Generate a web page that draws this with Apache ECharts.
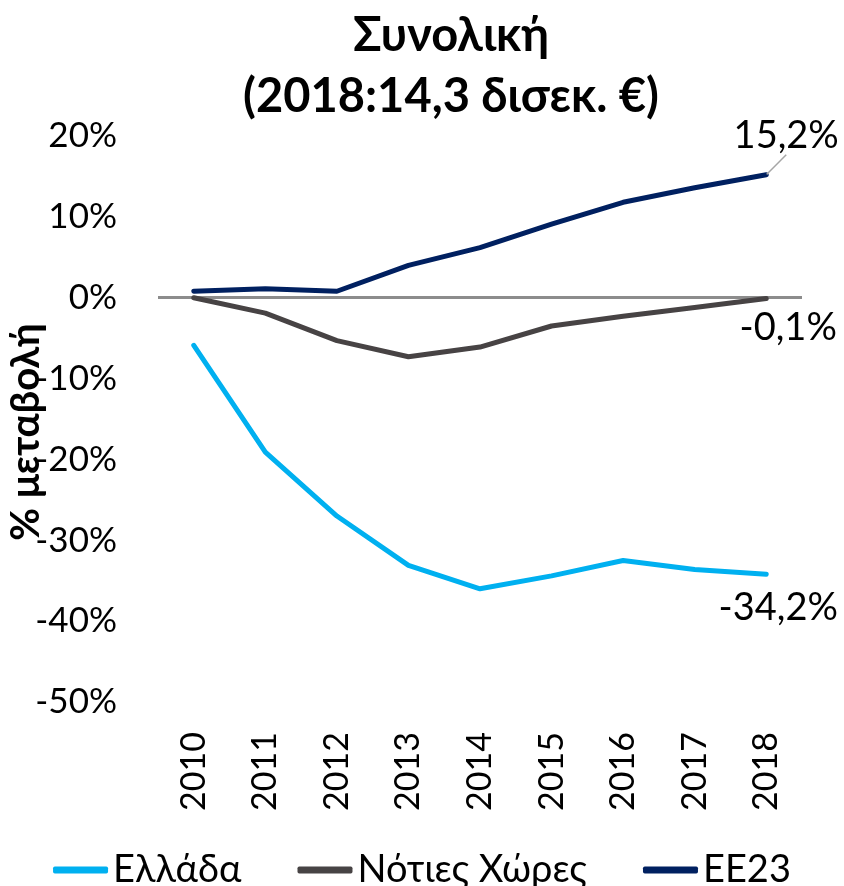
<!DOCTYPE html>
<html>
<head>
<meta charset="utf-8">
<script src="https://cdn.jsdelivr.net/npm/echarts@6/dist/echarts.min.js"></script>
<style>
html,body{margin:0;padding:0;background:#fff;}
#chart{width:844px;height:886px;}
</style>
</head>
<body>
<div id="chart"></div>
<script>
// κατηγορίες και τιμές (% μεταβολή)
var years = ['2010','2011','2012','2013','2014','2015','2016','2017','2018'];
var ellada = [-5.9, -19.1, -27.0, -33.1, -36.0, -34.4, -32.5, -33.6, -34.2];
var notiesXores = [0.0, -1.9, -5.3, -7.3, -6.1, -3.5, -2.3, -1.2, -0.1];
var ee23 = [0.8, 1.1, 0.8, 4.0, 6.2, 9.1, 11.8, 13.6, 15.2];
var seriesNames = ['Ελλάδα', 'Νότιες Χώρες', 'ΕΕ23'];
var colors = ['#00b0f0', '#474344', '#002060'];

var FONT = "Lato, 'Noto Sans', sans-serif";
var LAST = years.length - 1;

function fmt(v){
	return v.toFixed(1).replace('.', ',') + '%';
}
// μόνο η τελευταία τιμή έχει ετικέτα
function lastLabel(p){
	return p.dataIndex === LAST ? fmt(p.value) : '';
}

function makeSeries(i, data, dx, dy){
	return {
		name: seriesNames[i],
		type: 'line',
		data: data,
		symbol: 'circle',
		symbolSize: 1,
		showSymbol: true,
		lineStyle: {width: 5, color: colors[i], cap: 'round', join: 'round'},
		itemStyle: {color: colors[i]},
		label: {
			show: true,
			position: 'inside',
			formatter: lastLabel,
			color: '#000',
			fontSize: 38,
			fontFamily: FONT
		},
		labelLayout: function(p){
			if (p.dataIndex === LAST) return {dx: dx, dy: dy};
		},
		z: 3 + i
	};
}

var chart = echarts.init(document.getElementById('chart'));

var s0 = makeSeries(0, ellada, 12, 34);
var s1 = makeSeries(1, notiesXores, 22, 29);
var s2 = makeSeries(2, ee23, 20, -39);
s2.labelLine = {show: true, lineStyle: {color: '#a6a6a6', width: 1.5}};
// γραμμή του μηδενός
s1.markLine = {
	silent: true,
	symbol: 'none',
	label: {show: false},
	lineStyle: {color: '#8c8c8c', width: 3, type: 'solid'},
	data: [{yAxis: 0}],
	z: 1
};

var option = {
	animation: false,
	color: colors,
	title: {
		text: 'Συνολική\n(2018:14,3 δισεκ. €)',
		left: 446,
		top: 0,
		textAlign: 'center',
		textStyle: {
			fontSize: 47,
			fontWeight: 'bold',
			lineHeight: 61,
			color: '#000',
			fontFamily: FONT
		}
	},
	legend: {
		data: seriesNames,
		left: 'center',
		top: 846,
		icon: 'roundRect',
		itemWidth: 55,
		itemHeight: 7,
		itemGap: 56,
		textStyle: {fontSize: 38, color: '#000', fontFamily: FONT}
	},
	grid: {left: 158, right: 42, top: 136, bottom: 184, outerBoundsMode: 'none', containLabel: false},
	xAxis: {
		type: 'category',
		data: years,
		boundaryGap: true,
		axisLine: {show: false},
		axisTick: {show: false},
		axisLabel: {
			rotate: 90,
			margin: 30,
			fontSize: 34,
			color: '#000',
			fontFamily: FONT
		}
	},
	yAxis: {
		type: 'value',
		min: -50,
		max: 20,
		interval: 10,
		name: '% μεταβολή',
		nameLocation: 'middle',
		nameGap: 112,
		nameMoveOverlap: false,
		nameRotate: 90,
		nameTextStyle: {
			fontSize: 40,
			fontWeight: 'bold',
			color: '#000',
			fontFamily: FONT,
			padding: [0, 26, 0, 0]
		},
		axisLine: {show: false},
		axisTick: {show: false},
		splitLine: {show: false},
		axisLabel: {
			margin: 41,
			fontSize: 35,
			color: '#000',
			fontFamily: FONT,
			formatter: function(v){ return v + '%'; }
		}
	},
	series: [s0, s1, s2]
};

chart.setOption(option);
</script>
</body>
</html>
